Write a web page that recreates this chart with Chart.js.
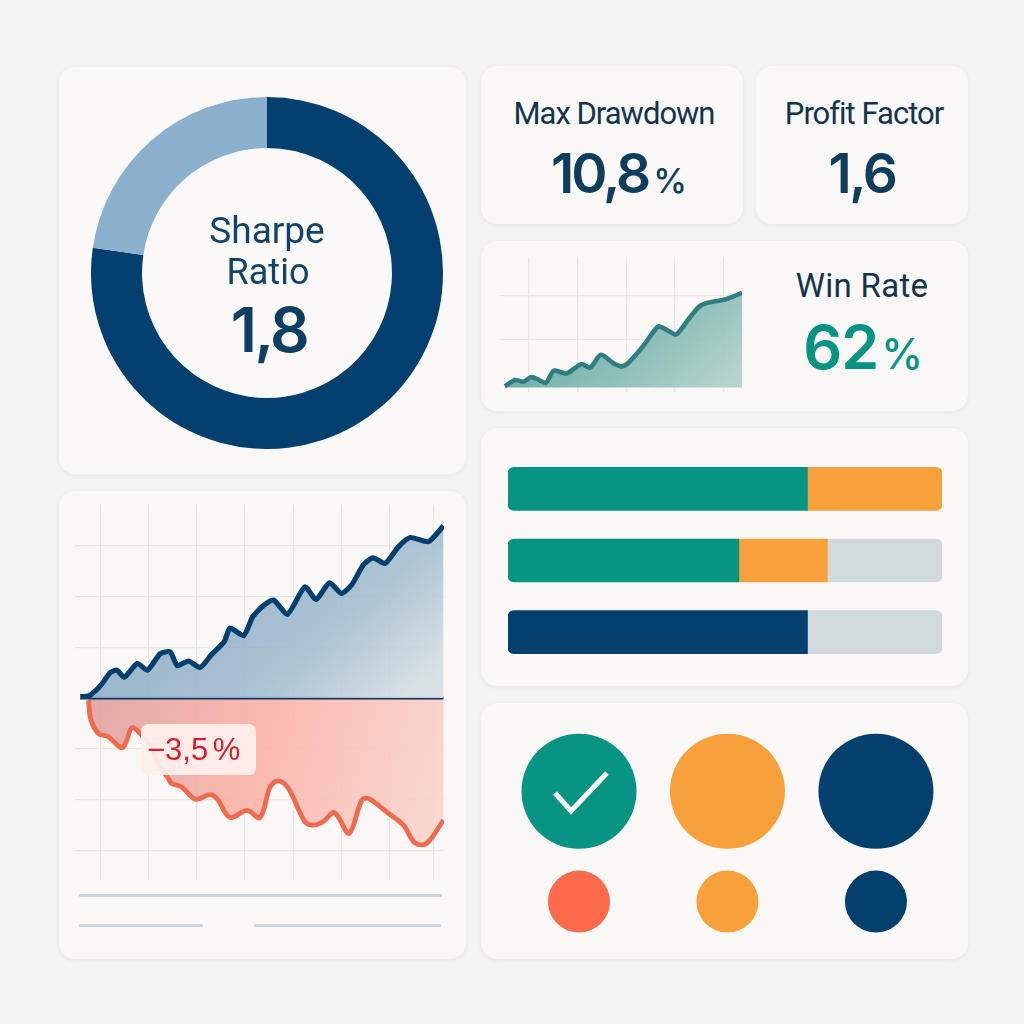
<!DOCTYPE html>
<html>
<head>
<meta charset="utf-8">
<title>Trading dashboard</title>
<script src="https://cdn.jsdelivr.net/npm/chart.js"></script>
<style>
html, body { margin: 0; padding: 0; background: #f3f3f3; }
#page { position: relative; width: 1024px; height: 1024px; overflow: hidden; font-family: Inter, Roboto, sans-serif; }
.card { position: absolute; background: #f9f8f6; border-radius: 16px; box-shadow: 0 1px 4px rgba(40,60,80,.07); }
canvas { position: absolute; display: block; }
.txt { position: absolute; text-align: center; white-space: nowrap; transform: translateX(-50%); line-height: 1; }
.lbl { font-family: Roboto, sans-serif; font-size: 31px; font-weight: 400; color: #12344d; letter-spacing: -1px; }
.val { font-size: 55px; font-weight: 600; color: #0f3d5c; letter-spacing: -2.5px; }
.val small { font-size: 34px; font-weight: 500; letter-spacing: 0; margin-left: 5px; }
.rule { position: absolute; height: 3px; background: #c9d4dc; border-radius: 2px; }
#badge { position: absolute; left: 141px; top: 724px; width: 115px; height: 51px; box-sizing: border-box; padding-left: 6px; border-radius: 7px; background: rgba(253,238,235,.95); color: #d4202a; font: 400 31px/51px "Liberation Sans", Arial, sans-serif; word-spacing: -4px; white-space: nowrap; }
#check { position: absolute; left: 521px; top: 734px; }
</style>
</head>
<body>
<div id="page">
  <div class="card" style="left:59px;top:67px;width:407px;height:407px"></div>
  <div class="card" style="left:481px;top:66px;width:262px;height:158px"></div>
  <div class="card" style="left:756px;top:66px;width:212px;height:158px"></div>
  <div class="card" style="left:481px;top:241px;width:487px;height:170px"></div>
  <div class="card" style="left:481px;top:428px;width:487px;height:258px"></div>
  <div class="card" style="left:59px;top:491px;width:407px;height:468px"></div>
  <div class="card" style="left:481px;top:703px;width:487px;height:256px"></div>

  <canvas id="donut" width="352" height="352" style="left:91px;top:97px"></canvas>
  <div class="txt lbl" style="left:267px;top:212px;font-size:37px;color:#124368;letter-spacing:0">Sharpe</div>
  <div class="txt lbl" style="left:268px;top:254px;font-size:36px;color:#124368;letter-spacing:0">Ratio</div>
  <div class="txt val" style="left:269px;top:299px;font-size:62px;color:#0e3f62">1,8</div>

  <div class="txt lbl" style="left:614px;top:98px">Max Drawdown</div>
  <div class="txt val" style="left:619px;top:146px;letter-spacing:-3px">10,8<small>%</small></div>
  <div class="txt lbl" style="left:864px;top:98px">Profit Factor</div>
  <div class="txt val" style="left:862px;top:146px">1,6</div>

  <canvas id="winLine" width="242" height="135" style="left:500px;top:257px"></canvas>
  <div class="txt lbl" style="left:862px;top:269px;font-size:33px;letter-spacing:0.3px">Win Rate</div>
  <div class="txt val" style="left:863px;top:317px;color:#079483;font-size:61px;letter-spacing:-1px">62<small style="font-size:42px;margin-left:3px">%</small></div>

  <canvas id="bars" width="434" height="215" style="left:508px;top:453px"></canvas>

  <canvas id="equity" width="369" height="375" style="left:75px;top:505px"></canvas>
  <div id="badge">−3,5 %</div>
  <div class="rule" style="left:79px;top:894px;width:363px"></div>
  <div class="rule" style="left:79px;top:924px;width:124px"></div>
  <div class="rule" style="left:254px;top:924px;width:187px"></div>

  <canvas id="status" width="487" height="256" style="left:481px;top:703px"></canvas>
  <svg id="check" width="116" height="116"><path d="M34 59 L50 77 L86 39" fill="none" stroke="#fff" stroke-width="5"/></svg>
</div>

<script>
// donut
const donutValues = [77.3, 22.7];

// equity curve, x in periods, y in percent
const gainX = [-0.41,-0.24,-0.10,0.03,0.21,0.35,0.50,0.77,0.98,1.24,1.45,1.60,1.83,2.07,2.31,2.57,2.69,2.97,3.16,3.38,3.59,3.88,4.24,4.47,4.75,5.00,5.21,5.45,5.65,5.90,6.18,6.42,6.80,7.11];
const gainY = [0.03,0.04,0.14,0.27,0.50,0.55,0.41,0.68,0.55,0.87,0.91,0.64,0.73,0.60,0.86,1.11,1.38,1.23,1.60,1.82,1.93,1.65,2.19,1.94,2.27,2.06,2.23,2.62,2.76,2.65,2.98,3.16,3.08,3.39];
const lossX = [-0.24,-0.19,-0.03,0.17,0.45,0.55,0.66,0.83,1.04,1.24,1.41,1.48,1.69,1.97,2.28,2.42,2.69,3.04,3.31,3.52,3.69,3.90,4.24,4.42,4.62,4.83,4.93,5.16,5.42,5.56,5.97,6.28,6.52,6.76,7.11];
const lossY = [-0.04,-0.43,-0.70,-0.76,-0.98,-0.83,-0.58,-0.70,-0.96,-1.35,-1.58,-1.68,-1.75,-1.99,-1.90,-1.98,-2.35,-2.21,-2.35,-1.75,-1.63,-1.78,-2.43,-2.50,-2.43,-2.25,-2.34,-2.66,-2.01,-1.98,-2.27,-2.50,-2.85,-2.86,-2.40];
const baselineX = [-0.41, 7.11];
const baselineY = [0, 0];
const equityGridX = [0, 1, 2, 3, 4, 5, 6, 6.9];
const equityGridY = [-3, -2, -1, 1, 2, 3];

// win rate curve
const winX = [-0.49,-0.28,-0.11,0.06,0.35,0.51,0.78,1.08,1.26,1.48,1.74,1.91,2.05,2.36,2.66,2.84,3.03,3.25,3.49,3.66,4.03,4.38];
const winY = [0.03,0.17,0.13,0.24,0.11,0.38,0.32,0.53,0.45,0.74,0.55,0.48,0.56,0.95,1.38,1.30,1.20,1.50,1.82,1.91,1.99,2.14];
const winGridX = [0, 1, 2, 3, 4];
const winGridY = [1.08, 2.08];

// stacked progress bars, [from, to] in percent of the row
const barRows = ['A', 'B', 'C'];
const tealSegments = [[0, 69], [0, 53.2], null];
const amberSegments = [[69, 100], [53.2, 73.6], null];
const navySegments = [null, null, [0, 69]];
const greySegments = [null, [73.6, 100], [69, 100]];

// status dots
const dotColumns = [0, 1, 2, 0, 1, 2];
const dotRows = [1, 1, 1, 0, 0, 0];
const dotColors = ['#079483', '#f7a03c', '#03406e', '#fb6b4b', '#f7a03c', '#03406e'];

const NAVY = '#04406f';

function gradient(chart, x0, y0, x1, y1, stops) {
    const g = chart.ctx.createLinearGradient(x0, y0, x1, y1);
    stops.forEach(s => g.addColorStop(s[0], s[1]));
    return g;
}

function toPoints(xs, ys) {
    return xs.map((x, i) => ({ x: x, y: ys[i] }));
}

function gridAxis(min, max, ticks) {
    return {
        type: 'linear',
        min: min,
        max: max,
        afterBuildTicks: ax => { ax.ticks = ticks.map(v => ({ value: v })); },
        ticks: { display: false },
        border: { display: false },
        grid: { color: '#e6e6e4', lineWidth: 1.2, drawTicks: false }
    };
}

const base = {
    responsive: false,
    animation: false,
    layout: { padding: 0, autoPadding: false },
    plugins: { legend: { display: false }, tooltip: { enabled: false } },
    elements: { point: { radius: 0 } }
};

new Chart(document.getElementById('donut'), {
    type: 'doughnut',
    data: {
        datasets: [{ data: donutValues, backgroundColor: [NAVY, '#8ab0cd'], borderWidth: 0 }]
    },
    options: { ...base, cutout: '71%' }
});

new Chart(document.getElementById('equity'), {
    type: 'line',
    data: {
        datasets: [
            {
                data: toPoints(gainX, gainY),
                borderColor: NAVY,
                borderWidth: 5.2,
                tension: 0.2,
                fill: 'origin',
                clip: false,
                backgroundColor: c => gradient(c.chart, 190, 40, 330, 195, [[0, 'rgba(140,173,196,.85)'], [0.5, 'rgba(158,186,205,.85)'], [1, 'rgba(214,222,227,.9)']])
            },
            { data: toPoints(baselineX, baselineY), borderColor: '#0b3560', borderWidth: 2.6, clip: false },
            {
                data: toPoints(lossX, lossY),
                borderColor: '#f06a4e',
                borderWidth: 4.8,
                tension: 0.35,
                fill: 'origin',
                clip: false,
                backgroundColor: c => gradient(c.chart, 0, 195, 369, 300, [[0, 'rgba(220,160,158,.9)'], [0.5, 'rgba(250,178,168,.9)'], [1, 'rgba(247,212,206,.9)']])
            }
        ]
    },
    options: {
        ...base,
        scales: { x: gridAxis(-0.52, 7.12, equityGridX), y: gridAxis(-3.58, 3.8, equityGridY) }
    }
});

new Chart(document.getElementById('winLine'), {
    type: 'line',
    data: {
        datasets: [{
            data: toPoints(winX, winY),
            borderColor: '#2f7f82',
            borderWidth: 4.6,
            tension: 0.25,
            fill: 'origin',
            clip: false,
            backgroundColor: c => gradient(c.chart, 130, 30, 220, 135, [[0, 'rgba(100,170,160,.9)'], [1, 'rgba(178,210,203,.95)']])
        }]
    },
    options: {
        ...base,
        scales: { x: gridAxis(-0.59, 4.38, winGridX), y: gridAxis(-0.1, 2.95, winGridY) }
    }
});

// round only the outer ends of a row
function endRadius(c) {
    const v = c.raw;
    if (!v) return 0;
    return {
        topLeft: v[0] === 0 ? 6 : 0,
        bottomLeft: v[0] === 0 ? 6 : 0,
        topRight: v[1] === 100 ? 6 : 0,
        bottomRight: v[1] === 100 ? 6 : 0
    };
}

function segmentSet(values, color) {
    return {
        data: values,
        backgroundColor: color,
        grouped: false,
        barThickness: 43,
        borderSkipped: false,
        borderRadius: endRadius
    };
}

new Chart(document.getElementById('bars'), {
    type: 'bar',
    data: {
        labels: barRows,
        datasets: [
            segmentSet(tealSegments, '#079483'),
            segmentSet(amberSegments, '#f7a03c'),
            segmentSet(navySegments, NAVY),
            segmentSet(greySegments, '#d2d9dc')
        ]
    },
    options: {
        ...base,
        indexAxis: 'y',
        scales: {
            x: { display: false, min: 0, max: 100 },
            y: { display: false }
        }
    }
});

new Chart(document.getElementById('status'), {
    type: 'bubble',
    data: {
        datasets: [{
            data: toPoints(dotColumns, dotRows),
            backgroundColor: dotColors,
            borderWidth: 0,
            clip: false,
            radius: c => (c.raw.y === 1 ? 57.5 : 31)
        }]
    },
    options: {
        ...base,
        scales: {
            x: { display: false, min: -0.66, max: 2.62 },
            y: { display: false, min: -0.52, max: 1.8 }
        }
    }
});
</script>
</body>
</html>
